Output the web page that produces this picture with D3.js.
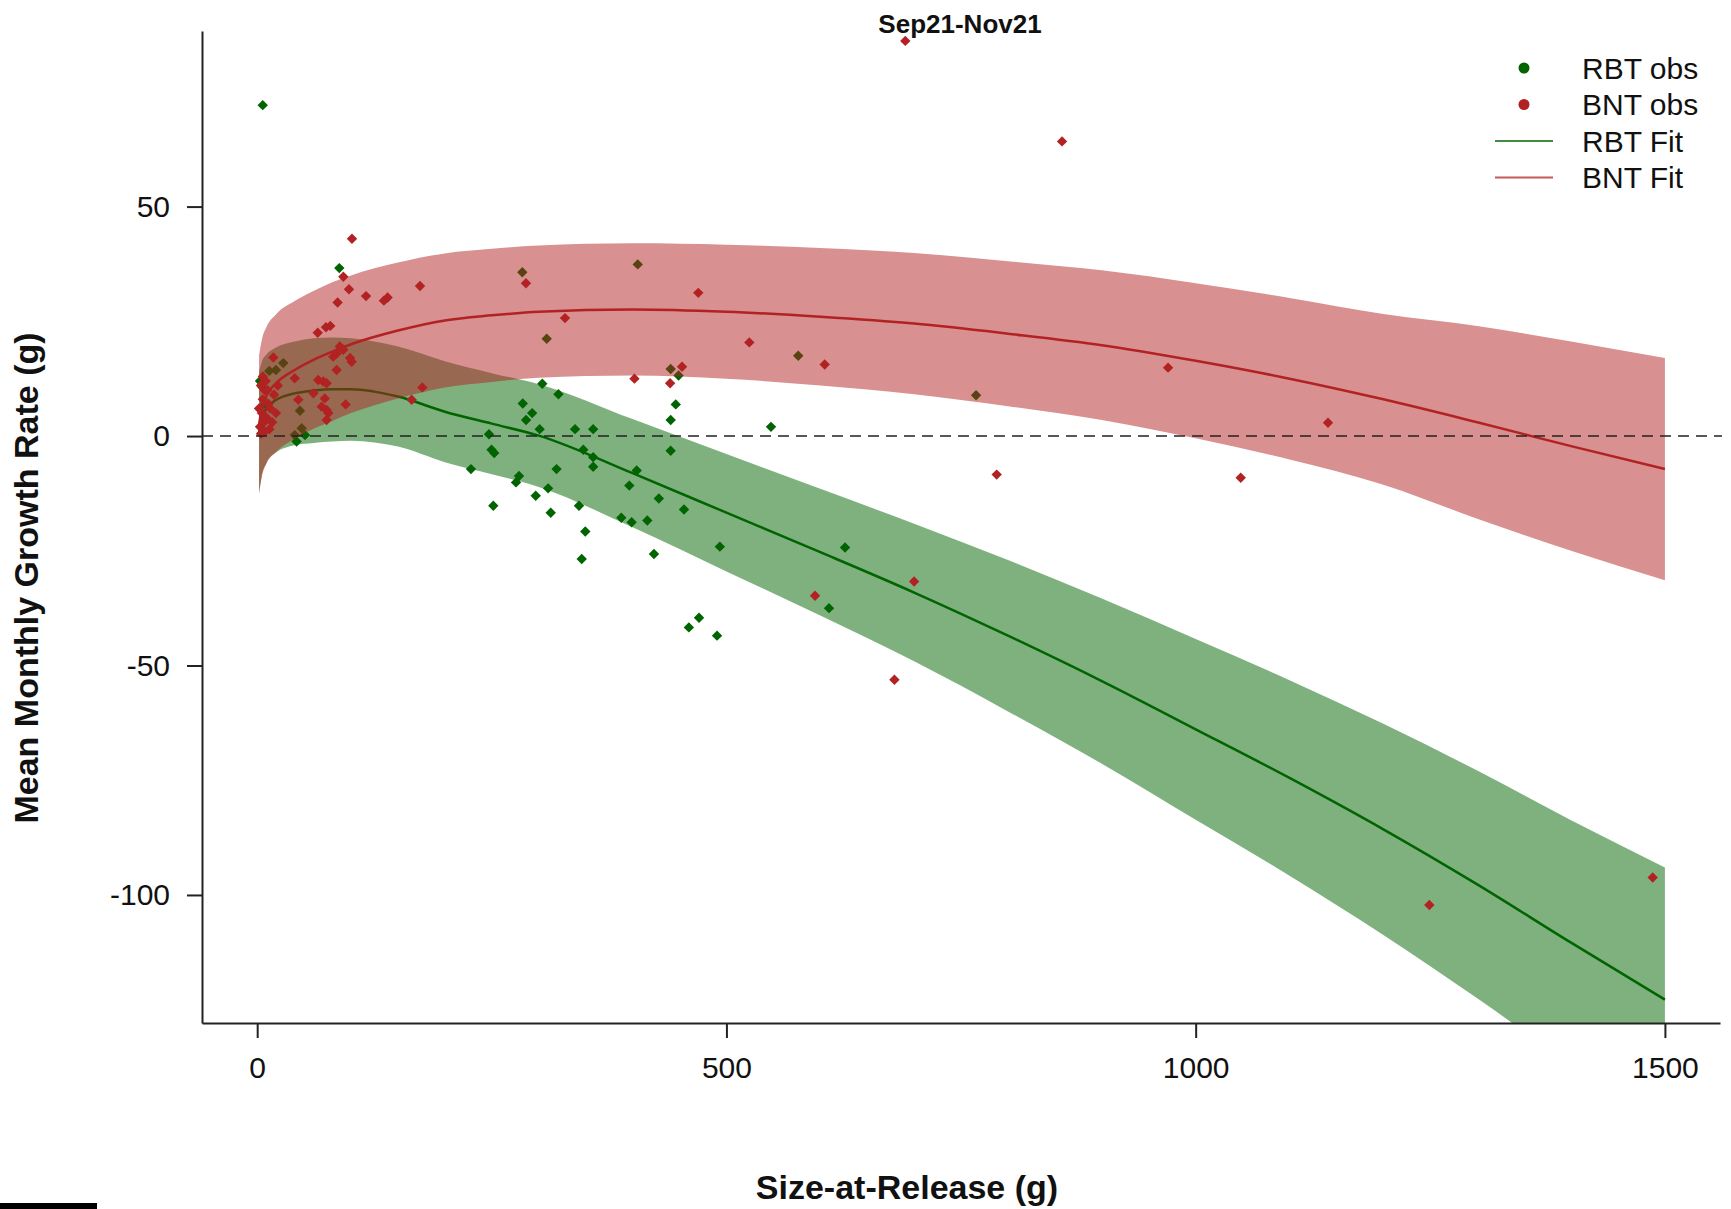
<!DOCTYPE html>
<html>
<head>
<meta charset="utf-8">
<script src="https://cdn.jsdelivr.net/npm/d3@7"></script>
<style>
  body { margin: 0; background: #fff; }
  svg { display: block; font-family: "Liberation Sans", Arial, sans-serif; }
</style>
</head>
<body>
<div id="chart"></div>
<script>
"use strict";

var title = 'Sep21-Nov21';
var xLabel = 'Size-at-Release (g)';
var yLabel = 'Mean Monthly Growth Rate (g)';
var xTicks = [0, 500, 1000, 1500];
var yTicks = [-100, -50, 0, 50];
var legendLabels = ['RBT obs', 'BNT obs', 'RBT Fit', 'BNT Fit'];

var rbtX = [5.9, 87.5, 3, 8, 12.9, 20, 27.8, 5.8, 45.6, 47.4, 40, 51, 42, 282.5, 405.5, 308.5, 440.6, 449, 576.5, 766,
  303.8, 321, 283, 293, 286.5, 301, 338.7, 358, 446, 440.6, 247, 249.7, 252.6, 440.6, 347.5, 358, 358, 227.8, 319, 279,
  275.8, 310, 404.4, 396.5, 296.8, 428, 251.6, 312.8, 342.9, 349.6, 345.8, 388, 399, 415.7, 454.8, 422.8, 547.5, 493,
  470.8, 460, 490, 626.4, 609.3];
var rbtY = [72.1, 36.6, 12, 7, 14.2, 14.4, 15.9, 10.6, 5.5, 1.7, 0.2, 0.2, -1.2, 35.7, 37.4, 21.2, 14.6, 13.2, 17.5, 8.9,
  11.4, 9.1, 7.1, 5.0, 3.5, 1.5, 1.5, 1.5, 6.9, 3.5, 0.4, -3.0, -3.7, -3.2, -3.0, -4.6, -6.7, -7.2, -7.2, -8.7,
  -10.1, -11.4, -7.5, -10.8, -13, -13.6, -15.2, -16.7, -15.2, -20.8, -26.8, -17.8, -18.8, -18.4, -16, -25.7, 2.0, -24.1,
  -39.6, -41.7, -43.5, -24.3, -37.5];

var bntX = [690.6, 857.6, 101, 91.8, 97.8, 116, 85.7, 135, 139, 173.5, 64.5, 73.3, 77.9, 17.2, 286.4, 470, 328, 524.4,
  452.7, 440, 402, 604.7, 970.6, 1141, 788, 1048, 700, 594.4, 679, 1249, 1487, 176, 164.6, 84.7, 88, 91.8, 81, 100.7,
  99, 84.7, 40, 65, 70.5, 74, 60, 72, 43.8, 68.7, 74, 75.8, 74, 94.3, 3, 5, 6, 8, 10, 4, 12, 7, 9, 14, 2, 11, 6, 16,
  18, 13, 4, 20, 22, 8];
var bntY = [86.1, 64.2, 43.0, 34.7, 32.0, 30.5, 29.1, 29.5, 30.2, 32.7, 22.5, 23.7, 24.0, 17.1, 33.3, 31.2, 25.7, 20.4,
  15.1, 11.5, 12.5, 15.6, 14.9, 2.9, -8.4, -9.1, -31.7, -34.8, -53.1, -102.2, -96.2, 10.6, 7.9, 18.0, 19.5, 18.8, 17.3,
  16.2, 17.0, 14.4, 12.6, 12.2, 11.9, 11.5, 9.3, 8.2, 7.9, 6.4, 5.7, 5.0, 3.5, 6.9, 2, 5, 8, 10, 4, 11, 7, 3, 12, 6,
  6, 10, 13, 3, 9, 1.5, 0.5, 5, 11, 1];

// fitted curves and 95% bands
var fitX = [2, 5, 10, 20, 40, 60, 80, 100, 150, 200, 250, 300, 400, 500, 600, 700, 800, 900, 1000, 1100, 1200, 1300, 1400, 1500];
var rbtFit = [0.8, 3.9, 6.0, 7.85, 9.3, 9.9, 10.2, 10.2, 8.6, 5.3, 2.7, 0.1, -8.1, -16.7, -25.3, -34.1, -43.5, -53.4, -63.9, -74.5, -85.7, -97.7, -110.4, -122.8];
var rbtHi = [14, 16.2, 17.8, 19.3, 20.6, 21.3, 21.5, 21.3, 19.5, 16.3, 13.7, 11.3, 3.7, -3.9, -11.5, -19.1, -27, -35.4, -44.2, -53.2, -62.7, -72.9, -83.7, -94];
var rbtLo = [-12.5, -8.5, -5.8, -3.6, -2.0, -1.5, -1.2, -1.0, -2.3, -5.7, -8.3, -11.1, -19.9, -29.5, -39.1, -49.1, -60, -71.4, -83.6, -95.8, -108.7, -122.5, -137.1, -151.6];
var bntFit = [2.5, 6.1, 8.9, 11.5, 14.4, 16.6, 18.4, 20, 23, 25.2, 26.3, 27.1, 27.6, 27.1, 26.0, 24.5, 22.3, 19.8, 16.4, 12.5, 8.0, 3.0, -2.2, -7.2];
var bntHi = [17.5, 21, 23.8, 26.5, 29.4, 31.6, 33.5, 35, 37.8, 39.8, 40.8, 41.5, 42, 41.7, 41, 39.9, 38.1, 36.1, 33.3, 30.1, 26.6, 24, 20.6, 17];
var bntLo = [-12.5, -8.8, -6, -3.5, -0.6, 1.6, 3.3, 5, 8.2, 10.6, 11.8, 12.7, 13.2, 12.5, 11, 9.1, 6.5, 3.5, -0.5, -5.1, -10.6, -18, -25, -31.4];

var GREEN = '#006400';
var RED = '#b22222';

var width = 1731, height = 1209;
var plot = { left: 202, right: 1720, top: 31, bottom: 1023 };

var svg = d3.select('#chart').append('svg')
  .attr('width', width)
  .attr('height', height);

var x = d3.scaleLinear().domain([-58.8, 1558.7]).range([plot.left, plot.right]);
var y = d3.scaleLinear().domain([-127.9, 88.26]).range([plot.bottom, plot.top]);

svg.append('clipPath').attr('id', 'plot-clip')
  .append('rect')
  .attr('x', plot.left).attr('y', plot.top)
  .attr('width', plot.right - plot.left).attr('height', plot.bottom - plot.top);

var marks = svg.append('g').attr('clip-path', 'url(#plot-clip)');

function rows(fit, lo, hi) {
  return fitX.map(function(v, i) { return { x: v, fit: fit[i], lo: lo[i], hi: hi[i] }; });
}
function pts(xs, ys) {
  return xs.map(function(v, i) { return { x: v, y: ys[i] }; });
}

var band = d3.area()
  .x(function(d) { return x(d.x); })
  .y0(function(d) { return y(d.lo); })
  .y1(function(d) { return y(d.hi); })
  .curve(d3.curveMonotoneX);

var fitLine = d3.line()
  .x(function(d) { return x(d.x); })
  .y(function(d) { return y(d.fit); })
  .curve(d3.curveMonotoneX);

var diamond = d3.symbol().type(d3.symbolSquare).size(54);

function drawPoints(data, color) {
  marks.append('g').selectAll('path').data(data).enter().append('path')
    .attr('d', diamond)
    .attr('transform', function(d) { return 'translate(' + x(d.x) + ',' + y(d.y) + ') rotate(45)'; })
    .attr('fill', color);
}

// draw order as in the original: RBT first, BNT bands laid over it
drawPoints(pts(rbtX, rbtY), GREEN);

var rbt = rows(rbtFit, rbtLo, rbtHi);
marks.append('path').datum(rbt).attr('d', band).attr('fill', GREEN).attr('fill-opacity', 0.5);
marks.append('path').datum(rbt).attr('d', fitLine)
  .attr('fill', 'none').attr('stroke', GREEN).attr('stroke-width', 2.5);

var bnt = rows(bntFit, bntLo, bntHi);
marks.append('path').datum(bnt).attr('d', band).attr('fill', RED).attr('fill-opacity', 0.5);
marks.append('path').datum(bnt).attr('d', fitLine)
  .attr('fill', 'none').attr('stroke', RED).attr('stroke-width', 2.5);

drawPoints(pts(bntX, bntY), RED);

// zero reference
svg.append('line')
  .attr('x1', plot.left).attr('x2', 1722)
  .attr('y1', y(0)).attr('y2', y(0))
  .attr('stroke', '#222').attr('stroke-width', 1.6)
  .attr('stroke-dasharray', '11,7');

// axes (plain integer labels with ascii minus, like base R)
var plain = function(d) { return String(d); };

var yAxis = svg.append('g')
  .attr('transform', 'translate(' + plot.left + ',0)')
  .call(d3.axisLeft(y).tickValues(yTicks).tickFormat(plain).tickSize(15).tickSizeOuter(0).tickPadding(17));

var xAxis = svg.append('g')
  .attr('transform', 'translate(0,' + plot.bottom + ')')
  .call(d3.axisBottom(x).tickValues(xTicks).tickFormat(plain).tickSize(15).tickSizeOuter(0).tickPadding(19));

[xAxis, yAxis].forEach(function(a) {
  a.selectAll('path, line').attr('stroke', '#222').attr('stroke-width', 2);
  a.selectAll('text')
    .attr('fill', '#111')
    .style('font-family', '"Liberation Sans", Arial, sans-serif')
    .style('font-size', '30px');
});

// titles
svg.append('text')
  .attr('x', 960).attr('y', 33)
  .attr('text-anchor', 'middle')
  .style('font-weight', 'bold').style('font-size', '26px')
  .attr('fill', '#111')
  .text(title);

svg.append('text')
  .attr('x', 907).attr('y', 1199)
  .attr('text-anchor', 'middle')
  .style('font-weight', 'bold').style('font-size', '34px')
  .attr('fill', '#111')
  .text(xLabel);

svg.append('text')
  .attr('transform', 'translate(38,578) rotate(-90)')
  .attr('text-anchor', 'middle')
  .style('font-weight', 'bold').style('font-size', '34px')
  .attr('fill', '#111')
  .text(yLabel);

// legend
var legend = svg.append('g').attr('transform', 'translate(1495,68)');
var rowGap = 36.5;
var legendKeys = [
  { type: 'dot', color: GREEN },
  { type: 'dot', color: RED },
  { type: 'line', color: GREEN },
  { type: 'line', color: RED }
];

legendKeys.forEach(function(k, i) {
  var row = legend.append('g').attr('transform', 'translate(0,' + (i * rowGap) + ')');
  if (k.type === 'dot') {
    row.append('circle').attr('cx', 29).attr('cy', 0).attr('r', 5.5).attr('fill', k.color);
  } else {
    row.append('line').attr('x1', 0).attr('x2', 58).attr('y1', 0).attr('y2', 0)
      .attr('stroke', k.color).attr('stroke-opacity', 0.75).attr('stroke-width', 2);
  }
  row.append('text')
    .attr('x', 87).attr('y', 0).attr('dy', '0.36em')
    .style('font-size', '30px')
    .attr('fill', '#111')
    .text(legendLabels[i]);
});

// stray mark at the bottom-left edge of the original image
svg.append('rect').attr('x', 0).attr('y', 1203).attr('width', 97).attr('height', 6).attr('fill', '#000');
</script>
</body>
</html>
